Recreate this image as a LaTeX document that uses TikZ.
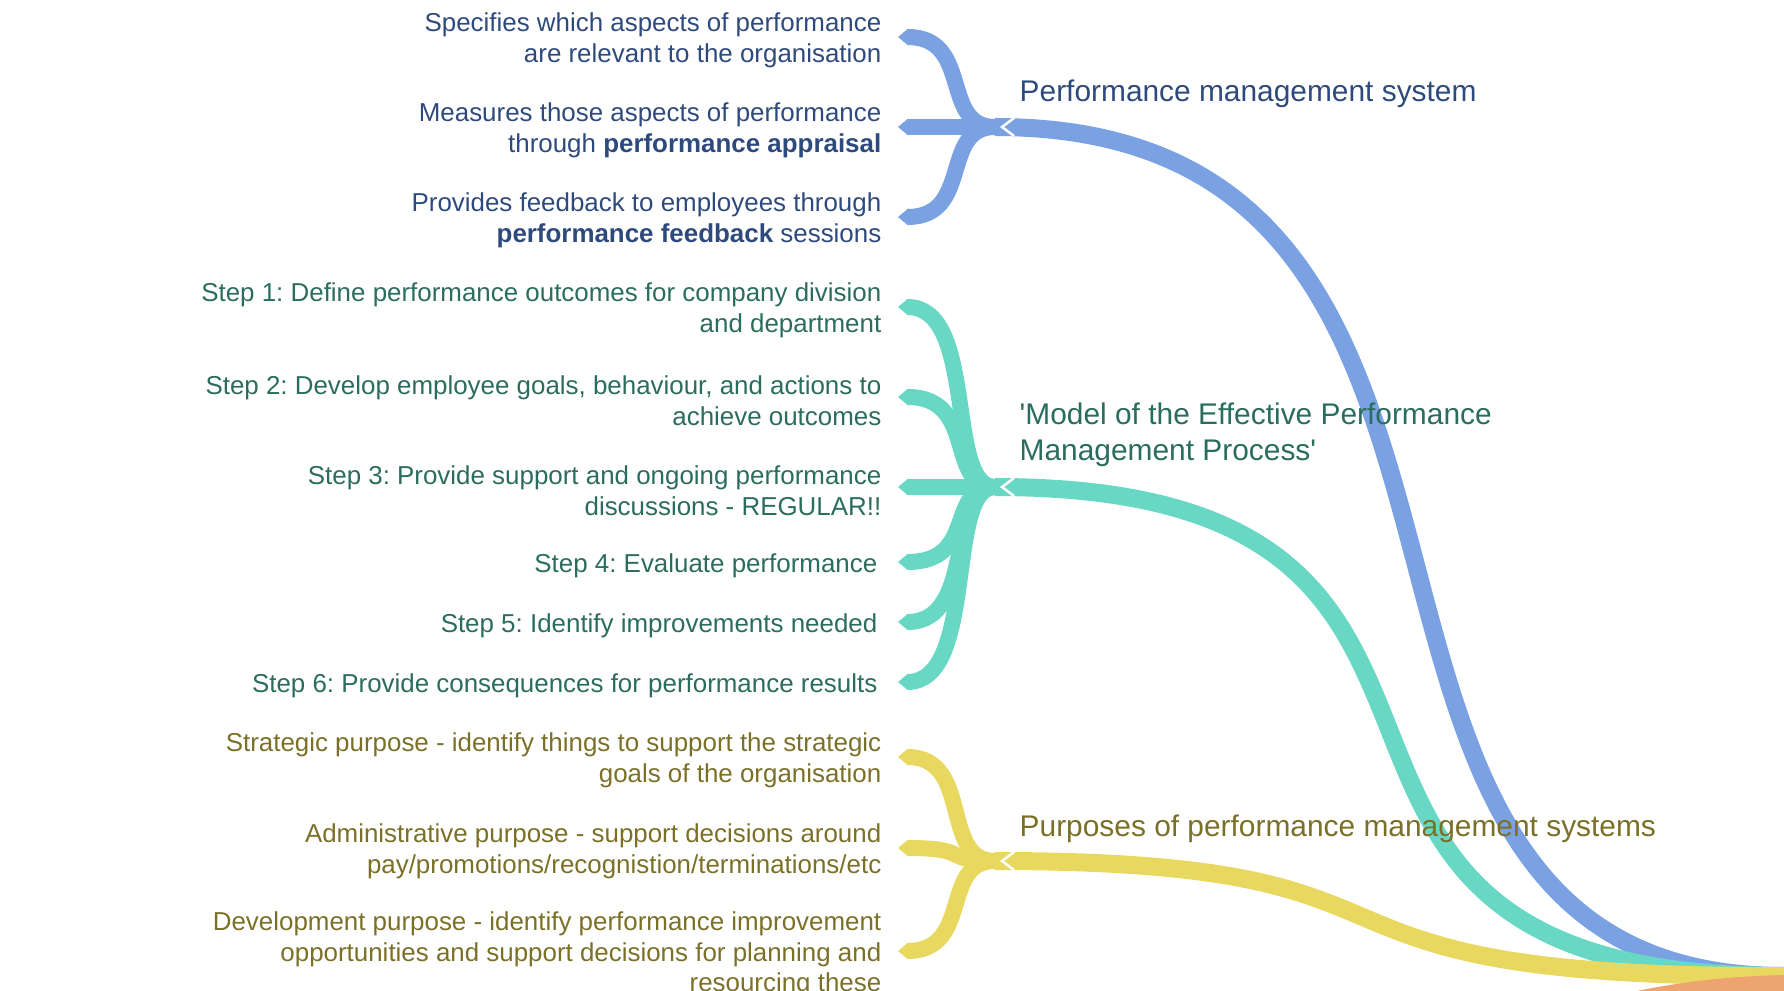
\documentclass[tikz,border=0pt]{standalone}
\usepackage{fontspec}
\setmainfont{Liberation Sans}
\usepackage{tikz}
\usetikzlibrary{arrows.meta, positioning}
\frenchspacing

\definecolor{pmsband}{HTML}{7AA2E3}
\definecolor{pmstext}{HTML}{2E4A7D}
\definecolor{modband}{HTML}{68D8C4}
\definecolor{modtext}{HTML}{2B6D5D}
\definecolor{purband}{HTML}{E9D860}
\definecolor{purtext}{HTML}{7B7027}
\definecolor{rootband}{HTML}{EDA46E}

\begin{document}
\begin{tikzpicture}[x=0.01cm, y=-0.01cm,
  trunk/.style={line width=0.18cm},
  twig/.style={line width=0.16cm, -{Triangle[length=0.1cm, width=0.16cm]}},
  notch/.style={white, line width=0.025cm},
  note/.style={inner sep=0, align=right, yshift=-0.035cm, font=\fontsize{7.37pt}{8.73pt}\selectfont},
  heading/.style={inner sep=0, align=left, anchor=west, font=\fontsize{8.5pt}{10.13pt}\selectfont}]
\useasboundingbox (0,0) rectangle (1784,991);
\clip (0,0) rectangle (1784,991);

\coordinate (root) at (1784,976);
\coordinate (pms) at (995,127);
\coordinate (mod) at (995,487);
\coordinate (pur) at (995,861);

\coordinate (pms1) at (898,37);
\coordinate (pms2) at (898,127);
\coordinate (pms3) at (898,217);
\coordinate (mod1) at (898,307);
\coordinate (mod2) at (898,397);
\coordinate (mod3) at (898,487);
\coordinate (mod4) at (898,562);
\coordinate (mod5) at (898,622);
\coordinate (mod6) at (898,682);
\coordinate (pur1) at (898,757);
\coordinate (pur2) at (898,848);
\coordinate (pur3) at (898,951);

\draw[pmsband, trunk] (pms) .. controls (1590,127) and (1250,976) .. (root);
\draw[modband, trunk] (mod) .. controls (1590,487) and (1190,976) .. (root);
\draw[purband, trunk] (pur) .. controls (1480,861) and (1242,978) .. (root);
\fill[rootband] (1637,991) .. controls (1690,980) and (1740,976) .. (1784,975) -- (1784,991) -- cycle;

\foreach \t in {pms1,pms2,pms3} \draw[pmsband, twig] (pms) .. controls +(-55,0) and +(75,0) .. (\t);
\foreach \t in {mod1,mod2,mod3,mod4,mod5,mod6} \draw[modband, twig] (mod) .. controls +(-50,0) and +(80,0) .. (\t);
\foreach \t in {pur1,pur2,pur3} \draw[purband, twig] (pur) .. controls +(-55,0) and +(75,0) .. (\t);
\foreach \y in {127,487,861} \draw[notch] (1014,\y-9) -- (1002,\y) -- (1014,\y+9);

\node[note, pmstext, left=0.16cm of pms1] (tpms1) {Specifies which aspects of performance\\are relevant to the organisation};
\node[note, pmstext, left=0.16cm of pms2] (tpms2) {Measures those aspects of performance\\through \textbf{performance appraisal}};
\node[note, pmstext, left=0.16cm of pms3] (tpms3) {Provides feedback to employees through\\\textbf{performance feedback} sessions};

\node[note, modtext, left=0.16cm of mod1] (tmod1) {Step 1: Define performance outcomes for company division\\and department};
\node[note, modtext, left=0.16cm of mod2] (tmod2) {Step 2: Develop employee goals, behaviour, and actions to\\achieve outcomes};
\node[note, modtext, left=0.16cm of mod3] (tmod3) {Step 3: Provide support and ongoing performance\\discussions - REGULAR!!};
\node[note, modtext, left=0.2cm of mod4] (tmod4) {Step 4: Evaluate performance};
\node[note, modtext, left=0.2cm of mod5] (tmod5) {Step 5: Identify improvements needed};
\node[note, modtext, left=0.2cm of mod6] (tmod6) {Step 6: Provide consequences for performance results};

\node[note, purtext, left=0.16cm of pur1] (tpur1) {Strategic purpose - identify things to support the strategic\\goals of the organisation};
\node[note, purtext, left=0.16cm of pur2] (tpur2) {Administrative purpose - support decisions around\\pay/promotions/recognistion/terminations/etc};
\node[note, purtext, left=0.16cm of pur3] (tpur3) {Development purpose - identify performance improvement\\opportunities and support decisions for planning and\\resourcing these};

\node[heading, pmstext] (tpms) at (1019,94) {Performance management system};
\node[heading, modtext] (tmod) at (1019,435) {\textquotesingle Model of the Effective Performance\\Management Process\textquotesingle};
\node[heading, purtext] (tpur) at (1019,829) {Purposes of performance management systems};
\end{tikzpicture}
\end{document}
